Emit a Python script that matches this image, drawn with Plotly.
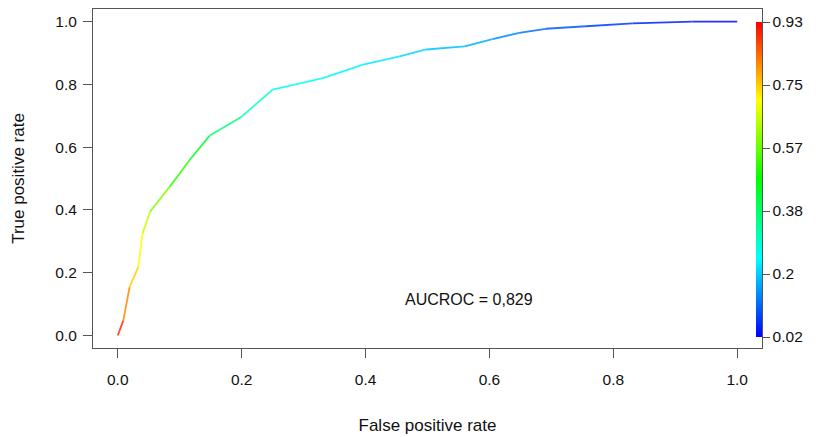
import numpy as np
import plotly.graph_objects as go
from plotly.colors import sample_colorscale

# ---- data ----
fpr = [0.0, 0.009, 0.019, 0.033, 0.040, 0.052, 0.084, 0.116, 0.148, 0.200,
       0.250, 0.331, 0.396, 0.455, 0.498, 0.560, 0.605, 0.648, 0.691, 0.756,
       0.831, 0.928, 1.0]
tpr = [0.0, 0.048, 0.154, 0.218, 0.325, 0.394, 0.474, 0.559, 0.636, 0.697,
       0.783, 0.820, 0.863, 0.889, 0.911, 0.921, 0.944, 0.964, 0.977, 0.985,
       0.994, 1.0, 1.0]
cutoff = [0.93, 0.85, 0.77, 0.72, 0.68, 0.62, 0.56, 0.48, 0.40, 0.33,
          0.27, 0.25, 0.235, 0.22, 0.20, 0.19, 0.16, 0.13, 0.11, 0.09,
          0.06, 0.04, 0.02]
x_ticks = [0.0, 0.2, 0.4, 0.6, 0.8, 1.0]
y_ticks = [0.0, 0.2, 0.4, 0.6, 0.8, 1.0]
cbar_labels = ["0.02", "0.2", "0.38", "0.57", "0.75", "0.93"]
auc_text = "AUCROC = 0,829"

cmin, cmax = min(cutoff), max(cutoff)
rainbow = [[0.0, "#0000FF"], [0.25, "#00FFFF"], [0.5, "#00FF00"],
           [0.75, "#FFFF00"], [1.0, "#FF0000"]]
FONT = "Liberation Sans, Arial, Helvetica"

fig = go.Figure()

# colored ROC curve: one short segment per pair of read points
for i in range(len(fpr) - 1):
    c = 0.5 * (cutoff[i] + cutoff[i + 1])
    col = sample_colorscale(rainbow, [(c - cmin) / (cmax - cmin)])[0]
    fig.add_trace(go.Scatter(
        x=[fpr[i], fpr[i + 1]], y=[tpr[i], tpr[i + 1]],
        mode="lines", line=dict(color=col, width=1.8),
        opacity=0.85, showlegend=False, hoverinfo="skip"))

# colour bar for the cutoff
PL, PR, PT, PB = 93, 762, 9, 348
W, H = 816, 437
pw, ph = PR - PL, PB - PT
fig.add_trace(go.Scatter(
    x=[fpr[0], fpr[-1]], y=[tpr[0], tpr[-1]], mode="markers",
    marker=dict(size=1, opacity=0, color=[cmin, cmax], cmin=cmin, cmax=cmax,
                colorscale=rainbow, showscale=True,
                colorbar=dict(
                    thickness=6, thicknessmode="pixels",
                    len=(337 - 22) / ph, lenmode="fraction",
                    x=(756 - PL) / pw, xanchor="left",
                    y=(PB - 337) / ph, yanchor="bottom",
                    xpad=0, ypad=0, outlinewidth=0,
                    tickvals=list(np.linspace(cmin, cmax, len(cbar_labels))),
                    ticktext=cbar_labels,
                    ticks="outside", ticklen=8, tickwidth=1, tickcolor="#555",
                    tickfont=dict(family=FONT, size=15.5, color="#111"))),
    showlegend=False, hoverinfo="skip"))

fig.add_annotation(x=0.567, y=0.115, text=auc_text, showarrow=False,
                   font=dict(family=FONT, size=16, color="#111"),
                   xanchor="center", yanchor="middle")

axis_common = dict(showgrid=False, zeroline=False, showline=True, mirror=True,
                   linecolor="#555", linewidth=1, ticks="outside", ticklen=9,
                   tickwidth=1, tickcolor="#555",
                   tickfont=dict(family=FONT, size=15.5, color="#111"))

fig.update_layout(
    width=W, height=H,
    margin=dict(l=PL, r=W - PR, t=PT, b=H - PB, autoexpand=False),
    paper_bgcolor="white", plot_bgcolor="white",
    xaxis=dict(range=[-0.04, 1.04], tickvals=x_ticks, tickformat=".1f",
               ticklabelstandoff=8,
               title=dict(text="False positive rate", standoff=32,
                          font=dict(family=FONT, size=17, color="#111")),
               **axis_common),
    yaxis=dict(range=[-0.04, 1.04], tickvals=y_ticks, tickformat=".1f",
               ticklabelstandoff=3,
               title=dict(text="True positive rate", standoff=26,
                          font=dict(family=FONT, size=17, color="#111")),
               **axis_common),
)

fig.write_html("out.html", config={"displayModeBar": False},
               post_script="document.body.style.margin='0';")
